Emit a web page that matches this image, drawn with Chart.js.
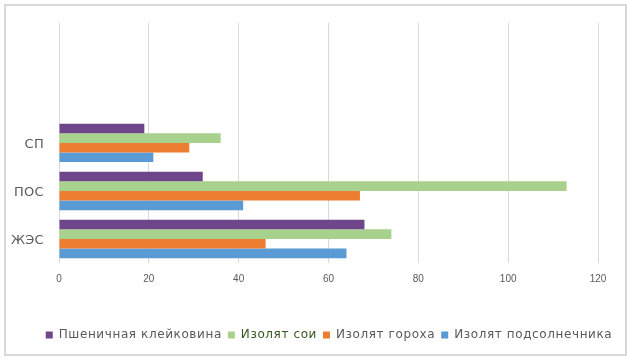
<!DOCTYPE html>
<html>
<head>
<meta charset="utf-8">
<script src="https://cdn.jsdelivr.net/npm/chart.js@4/dist/chart.umd.min.js"></script>
<style>
  html, body { margin: 0; padding: 0; background: #fff; }
  #wrap { position: relative; width: 630px; height: 362px; }
  #frame { position: absolute; left: 4px; top: 4px; width: 619px; height: 348px; border: 2px solid #D9D9D9; pointer-events: none; }
  canvas { position: absolute; left: 0; top: 0; }
</style>
</head>
<body>
<div id="wrap">
  <canvas id="c" width="630" height="362"></canvas>
  <div id="frame"></div>
</div>
<script>
// Categories top to bottom (two empty slots at the top, as in the source)
const categories = ['', '', 'СП', 'ПОС', 'ЖЭС'];
const seriesNames = ['Пшеничная клейковина', 'Изолят сои', 'Изолят гороха', 'Изолят подсолнечника'];
const wheatGluten = [null, null, 19, 32, 68];
const soyIsolate = [null, null, 36, 113, 74];
const peaIsolate = [null, null, 29, 67, 46];
const sunflowerIsolate = [null, null, 21, 41, 64];
const xTicks = [0, 20, 40, 60, 80, 100, 120];

const colors = ['#6E4689', '#A9D18E', '#ED7D31', '#5B9BD5'];
const legendTextColors = ['#595959', '#375623', '#595959', '#595959'];

const LEGEND_SPACING = '0.6px';
const scaleSpacing = { x: '0px', y: '0.3px' };

const spacingPlugin = {
  id: 'spacing',
  beforeLayout(chart) { chart.ctx.letterSpacing = LEGEND_SPACING; },
  afterLayout(chart) {
    // centre the legend row under the plot like the source
    const lg = chart.legend;
    if (lg) { lg.left += 18; lg.right += 18; }
  },
  beforeDraw(chart) {
    Object.keys(scaleSpacing).forEach((id) => {
      const s = chart.scales[id];
      if (s && !s._wrappedLabels) {
        const orig = s.drawLabels.bind(s);
        s.drawLabels = function (ca) {
          const ctx = chart.ctx;
          const prev = ctx.letterSpacing;
          ctx.letterSpacing = scaleSpacing[id];
          orig(ca);
          ctx.letterSpacing = prev;
        };
        s._wrappedLabels = true;
      }
    });
    chart.ctx.letterSpacing = LEGEND_SPACING;
  }
};

new Chart(document.getElementById('c'), {
  type: 'bar',
  data: {
    labels: categories,
    datasets: [
      { label: seriesNames[0], data: wheatGluten, backgroundColor: colors[0] },
      { label: seriesNames[1], data: soyIsolate, backgroundColor: colors[1] },
      { label: seriesNames[2], data: peaIsolate, backgroundColor: colors[2] },
      { label: seriesNames[3], data: sunflowerIsolate, backgroundColor: colors[3] }
    ]
  },
  options: {
    indexAxis: 'y',
    responsive: false,
    animation: false,
    devicePixelRatio: 1,
    datasets: { bar: { categoryPercentage: 0.8, barPercentage: 1.0, borderWidth: 0 } },
    layout: { padding: { left: 4, right: 12, top: 19.5, bottom: 11 } },
    scales: {
      x: {
        min: 0, max: 120,
        afterBuildTicks: (s) => { s.ticks = xTicks.map(v => ({ value: v })); },
        grid: { color: '#D9D9D9', lineWidth: 1, drawTicks: false },
        border: { display: false },
        ticks: { color: '#595959', font: { family: 'Liberation Sans', size: 10 }, padding: 10, maxRotation: 0 },
        afterFit: (s) => { s.height = 60; }
      },
      y: {
        grid: { display: false, drawTicks: false },
        border: { display: false },
        ticks: { color: '#595959', font: { family: 'DejaVu Sans', size: 13 }, padding: 15, autoSkip: false, labelOffset: 2 },
        afterFit: (s) => { s.width = 55; }
      },
      y2: {
        type: 'category',
        position: 'right',
        grid: { display: false, drawTicks: false },
        border: { display: false },
        ticks: { display: false },
        afterFit: (s) => { s.width = 20; }
      }
    },
    plugins: {
      tooltip: { enabled: false },
      legend: {
        position: 'bottom',
        labels: {
          boxWidth: 7, boxHeight: 7, padding: 6,
          font: { family: 'DejaVu Sans', size: 12 },
          color: '#595959',
          generateLabels: (chart) => chart.data.datasets.map((d, i) => ({
            text: d.label, fillStyle: d.backgroundColor, strokeStyle: d.backgroundColor,
            lineWidth: 0, hidden: false, datasetIndex: i, fontColor: legendTextColors[i]
          }))
        }
      }
    }
  },
  plugins: [spacingPlugin]
});
</script>
</body>
</html>
